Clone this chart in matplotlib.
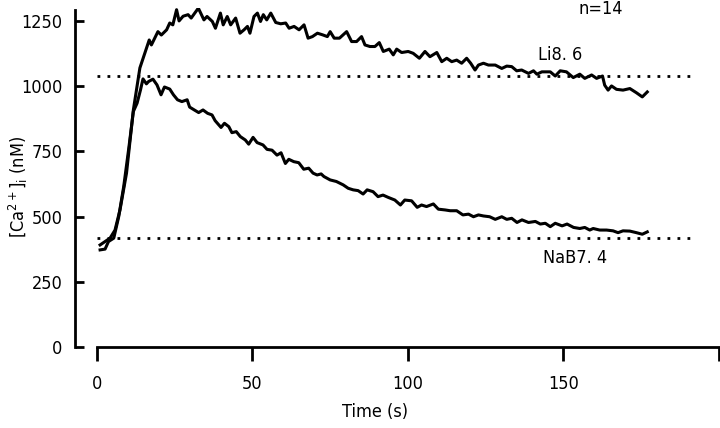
import matplotlib
matplotlib.use("Agg")
import matplotlib.pyplot as plt

plt.rcParams['font.family'] = ['DejaVu Sans']
plt.rcParams['font.stretch'] = 'condensed'
plt.rcParams['font.size'] = 13

# Li8.6 trace (time s, [Ca2+]i nM)
li_t = [1, 4.2, 5.8, 7.4, 9.5, 11.7, 13.8, 15.4, 16.8, 17.5, 19.6, 20.7, 22.4, 23.4,
        24.4, 25.6, 26.4, 27.7, 29.3, 30.3, 32.6, 34.4, 35.4, 37.1, 38.1, 39.7, 40.6,
        41.9, 43, 44.6, 46, 47.3, 48.4, 49.2, 50.5, 51.6, 52.6, 53.5, 54.6, 55.9, 57.5,
        59.1, 60.7, 61.8, 63.4, 65, 66.6, 67.9, 69.3, 70.9, 72.5, 74.1, 75, 76.3, 78,
        80.3, 81.9, 83.5, 85.1, 86.2, 87.8, 89.4, 90.8, 92.1, 94, 95.3, 96.4, 98,
        100.1, 101.7, 103.7, 105.5, 107.1, 109.3, 110.9, 112.5, 114.1, 115.7, 117.3,
        118.9, 120.2, 121.6, 122.7, 124.3, 125.9, 128.1, 130.2, 131.8, 133.4, 135,
        136.6, 138.8, 140.4, 141.5, 143.1, 145.8, 147.4, 149, 151, 153.2, 155.3, 156.9,
        159.1, 160.7, 162.6, 163.3, 164.4, 165.5, 167.1, 169.2, 171.4, 173.5, 175.4, 177]
li_v = [392, 418, 449, 526, 667, 909, 1070, 1127, 1177, 1158, 1209, 1196, 1216, 1242,
        1235, 1293, 1250, 1268, 1274, 1261, 1299, 1254, 1267, 1248, 1222, 1280, 1235,
        1267, 1235, 1261, 1203, 1216, 1229, 1203, 1267, 1280, 1248, 1274, 1254, 1280, 1244,
        1239, 1242, 1222, 1229, 1216, 1235, 1184, 1190, 1203, 1197, 1190, 1209, 1184, 1184,
        1209, 1171, 1171, 1190, 1158, 1152, 1152, 1167, 1133, 1142, 1120, 1142, 1129,
        1133, 1126, 1107, 1133, 1113, 1129, 1094, 1107, 1094, 1100, 1088,
        1107, 1088, 1062, 1081, 1088, 1081, 1081, 1068, 1077, 1075, 1059,
        1062, 1049, 1059, 1046, 1055, 1055, 1039, 1059, 1055, 1033, 1046, 1030,
        1043, 1030, 1039, 1004, 985, 1001, 988, 985, 991, 975, 959, 978]

# NaB7.4 trace
na_t = [1, 2.6, 3.7, 5.4, 7, 8.6, 10.3, 11.7, 12.9, 14, 14.8, 15.9, 16.6, 18, 19.3,
        20.6, 21.7, 23.4, 24.6, 25.9, 27.3, 29, 29.8, 31.3, 32.7, 34.1, 35.6, 37, 38,
        39.9, 41, 42.4, 43.4, 44.8, 46.1, 47.7, 48.8, 50.2, 51.5, 53.4, 54.7, 56.3, 57.9,
        59.2, 60.6, 61.7, 63.3, 64.9, 66.5, 68.1, 69.5, 70.8, 72.1, 73, 75, 77, 79.2,
        80.8, 82.4, 84, 85.6, 86.9, 88.8, 90.4, 92, 93.7, 95.8, 97.6, 99, 101.2, 103,
        104.4, 106, 108.2, 109.8, 112, 113.6, 115.7, 117.7, 119.5, 121.1, 122.7, 124.3,
        126.3, 128.1, 130.2, 131.8, 133.4, 135.1, 136.7, 138.8, 141, 142.6, 144.2, 145.8,
        147.4, 149.6, 151.2, 153.3, 155.3, 156.9, 158.5, 159.6, 161.7, 163.9, 166, 167.6,
        169.2, 171.4, 173.5, 175.4, 177]
na_v = [373, 376, 405, 418, 501, 616, 769, 903, 935, 986, 1028, 1009, 1018, 1027, 1005,
        967, 997, 989, 967, 948, 941, 948, 920, 909, 899, 909, 896, 890, 868,
        842, 858, 845, 822, 826, 807, 794, 778, 804, 784, 775, 758, 755, 736,
        745, 704, 720, 711, 707, 682, 686, 667, 660, 664, 654, 641, 635, 622,
        609, 603, 600, 587, 603, 596, 577, 583, 574, 564, 545, 564, 561, 536,
        545, 539, 549, 529, 526, 523, 523, 507, 510, 500, 507, 503,
        500, 490, 500, 490, 494, 478, 488, 478, 482, 472, 475, 462,
        475, 465, 472, 459, 455, 459, 449, 455, 449, 449, 446, 439,
        446, 445, 439, 433, 442]

ref_levels = [1040, 420]
xticks = [0, 50, 100, 150, 200]
xticklabels = ["0", "50", "100", "150", ""]
yticks = [0, 250, 500, 750, 1000, 1250]

fig = plt.figure(figsize=(7.2, 4.28), dpi=100)
ax = fig.add_axes([0.1347, 0.1886, 0.8636, 0.793])

ax.plot(li_t, li_v, color="black", linewidth=2.2)
ax.plot(na_t, na_v, color="black", linewidth=2.2)
for lvl in ref_levels:
    ax.hlines(lvl, 0, 193, colors="black", linewidth=2.0, linestyles=(0, (1, 2.6)))

ax.set_xlim(0, 200)
ax.set_ylim(0, 1300)
ax.set_xticks(xticks)
ax.set_xticklabels(xticklabels)
ax.set_yticks(yticks)

for s in ["top", "right"]:
    ax.spines[s].set_visible(False)
ax.spines["left"].set_position(("outward", 15.8))
ax.spines["left"].set_bounds(0, 1290)
ax.spines["bottom"].set_bounds(0, 200)
ax.spines["left"].set_linewidth(2)
ax.spines["bottom"].set_linewidth(2)

ax.tick_params(axis="y", direction="in", length=6.5, width=2, pad=9)
ax.tick_params(axis="x", direction="out", length=10, width=2, pad=10)

ax.set_xlabel("Time (s)", labelpad=10)
ax.xaxis.set_label_coords(0.447, -0.165)
ax.set_ylabel(r"[Ca$^{2+}$]$_{\rm i}$ (nM)", fontsize=13)
ax.yaxis.set_label_coords(-0.108, 0.472)

ax.text(162, 1297, "n=14", ha="center", va="center")
ax.text(149, 1120, "Li8. 6", ha="center", va="center")
ax.text(153.7, 342, "NaB7. 4", ha="center", va="center")

fig.savefig("out.png", dpi=100)
